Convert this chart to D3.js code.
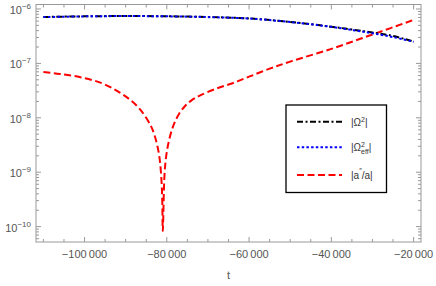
<!DOCTYPE html>
<html><head><meta charset="utf-8">
<script src="https://cdn.jsdelivr.net/npm/d3@7"></script>
<style>body{margin:0;background:#fff}svg{display:block}text{font-family:"Liberation Sans",Arial,sans-serif}</style>
</head><body>
<svg id="c" width="436" height="286"></svg>
<script>
// ---- data ----
const tOmega = [-110000,-100000,-90000,-80000,-70000,-60000,-50000,-40000,-35000,-30000,-25000,-20000];
const omega2 = [7.13e-7,7.34e-7,7.43e-7,7.36e-7,7.13e-7,6.7e-7,5.8e-7,4.72e-7,4.2e-7,3.7e-7,3.2e-7,2.52e-7];
const omegaEff2 = [7.1e-7,7.32e-7,7.42e-7,7.34e-7,7.1e-7,6.68e-7,5.77e-7,4.7e-7,4.12e-7,3.58e-7,3.05e-7,2.5e-7];
const tRed = [-110000,-106000,-101000,-96000,-92000,-89000,-86500,-84000,-83000,-82000,-81600,-81250,-81100,-80970,-80450,-79650,-78400,-77000,-75500,-74000,-72000,-68000,-64000,-60000,-55000,-50000,-40000,-30000,-20000];
const aRatio = [6.94e-8,6.41e-8,5.57e-8,4.39e-8,3.09e-8,2.17e-8,1.43e-8,7.42e-9,4.83e-9,2.37e-9,1.42e-9,6.2e-10,2.86e-10,8.3e-11,1.2e-9,3.3e-9,7.2e-9,1.19e-8,1.67e-8,2.09e-8,2.56e-8,3.44e-8,4.33e-8,5.7e-8,8.0e-8,1.08e-7,1.85e-7,3.4e-7,6.3e-7];
const xMajor = [-100000,-80000,-60000,-40000,-20000];
const yMajorExp = [-10,-9,-8,-7,-6];

// ---- layout ----
const svg = d3.select("#c");
const L=36, R=421, T=4.5, B=242;
const x = d3.scaleLinear().domain([-111800,-18200]).range([L,R]);
const y = d3.scaleLog().domain([Math.pow(10,-10.283),Math.pow(10,-5.917)]).range([B,T]);
const gray="#999", lab="#555";

// frame
svg.append("rect").attr("x",L).attr("y",T).attr("width",R-L).attr("height",B-T)
  .attr("fill","none").attr("stroke",gray).attr("stroke-width",1);

// x ticks
const xMinor = d3.range(-110000,-18000,5000);
xMinor.forEach(v=>{
  const major = xMajor.includes(v);
  const len = major?5:3;
  const px = x(v);
  svg.append("line").attr("x1",px).attr("x2",px).attr("y1",B).attr("y2",B-len).attr("stroke",gray);
  svg.append("line").attr("x1",px).attr("x2",px).attr("y1",T).attr("y2",T+len).attr("stroke",gray);
});
xMajor.forEach(v=>{
  const s = "\u2212" + d3.format("d")(-v).replace(/(\d)(\d{3})$/,"$1\u2009$2");
  svg.append("text").attr("x",x(v)).attr("y",B+16).attr("text-anchor","middle")
    .attr("font-size",11).attr("fill",lab).text(s);
});
svg.append("text").attr("x",(L+R)/2).attr("y",279).attr("text-anchor","middle")
  .attr("font-size",11).attr("fill",lab).text("t");

// y ticks
const [d0,d1]=y.domain();
for(let e=-11;e<=-6;e++){
  for(let k=1;k<=9;k++){
    const v=k*Math.pow(10,e);
    if(v<d0||v>d1) continue;
    const len = k===1?5:3;
    const py=y(v);
    svg.append("line").attr("x1",L).attr("x2",L+len).attr("y1",py).attr("y2",py).attr("stroke",gray);
    svg.append("line").attr("x1",R).attr("x2",R-len).attr("y1",py).attr("y2",py).attr("stroke",gray);
  }
}
yMajorExp.forEach(e=>{
  const t = svg.append("text").attr("x",31).attr("y",y(Math.pow(10,e))+5).attr("text-anchor","end")
    .attr("font-size",11).attr("fill",lab);
  t.append("tspan").text("10");
  t.append("tspan").attr("font-size",8).attr("dy",-5).text("\u2212"+(-e));
});

// lines
svg.append("clipPath").attr("id","cp").append("rect").attr("x",L).attr("y",T).attr("width",R-L).attr("height",B-T);
const line = d3.line().x(d=>x(d[0])).y(d=>y(d[1])).curve(d3.curveCatmullRom.alpha(0.5));
const g = svg.append("g").attr("clip-path","url(#cp)");
g.append("path").attr("d",line(tRed.map((t,i)=>[t,aRatio[i]]))).attr("fill","none")
  .attr("stroke","#ff0000").attr("stroke-width",2).attr("stroke-dasharray","7,3.5");
g.append("path").attr("d",line(tOmega.map((t,i)=>[t,omega2[i]]))).attr("fill","none")
  .attr("stroke","#000").attr("stroke-width",2).attr("stroke-dasharray","6,2.5,2,2.5");
g.append("path").attr("d",line(tOmega.map((t,i)=>[t,omegaEff2[i]]))).attr("fill","none")
  .attr("stroke","#0000ff").attr("stroke-width",2).attr("stroke-dasharray","2.5,2.2");

// legend
const lg = svg.append("g");
lg.append("rect").attr("x",286).attr("y",105).attr("width",100.5).attr("height",87.5)
  .attr("fill","#fff").attr("stroke","#000").attr("stroke-width",1.3);
const styles=[["#000","6,2.5,2,2.5"],["#0000ff","2.5,2.2"],["#ff0000","7,3.5"]];
const ly=[121.7,147.3,175];
styles.forEach((s,i)=>{
  lg.append("line").attr("x1",297).attr("x2",342).attr("y1",ly[i]).attr("y2",ly[i])
    .attr("stroke",s[0]).attr("stroke-width",2).attr("stroke-dasharray",s[1]);
});
const fs=10;
let t0 = lg.append("text").attr("x",351).attr("y",ly[0]+4).attr("font-size",fs).attr("fill","#333");
t0.append("tspan").text("|Ω");
t0.append("tspan").attr("font-size",7).attr("dy",-4).text("2");
t0.append("tspan").attr("dy",4).text("|");
let t1 = lg.append("text").attr("x",351).attr("y",ly[1]+4).attr("font-size",fs).attr("fill","#333");
t1.append("tspan").text("|Ω");
t1.append("tspan").attr("font-size",7).attr("dy",-4).text("2");
t1.append("tspan").attr("font-size",7).attr("dx",-4).attr("dy",7).text("eff");
t1.append("tspan").attr("dy",-3).text("|");
let t2 = lg.append("text").attr("x",351).attr("y",ly[2]+4).attr("font-size",fs).attr("fill","#333");
t2.append("tspan").text("|a");
t2.append("tspan").attr("font-size",7).attr("dy",-6).text("\u2033");
t2.append("tspan").attr("dy",6).text("/a|");
</script>
</body></html>
